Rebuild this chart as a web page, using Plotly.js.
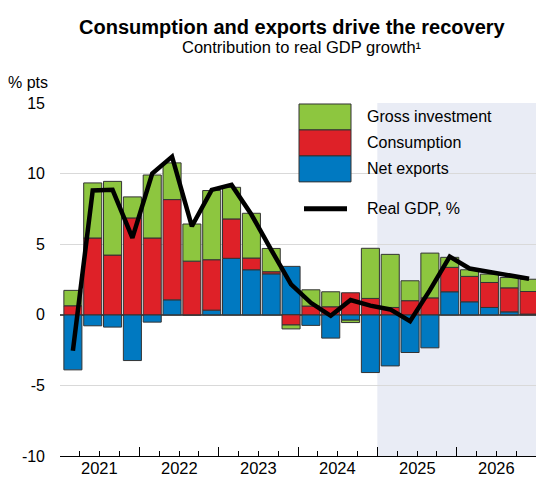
<!DOCTYPE html>
<html>
<head>
<meta charset="utf-8">
<script src="https://cdn.plot.ly/plotly-3.0.1.min.js"></script>
<style>html,body{margin:0;padding:0;background:#fff;}#chart{width:536px;height:477px;}</style>
</head>
<body>
<div id="chart"></div>
<script>
// ---- data (quarterly, 2021Q1 .. 2026Q4) ----
const quarters = ['2021Q1','2021Q2','2021Q3','2021Q4','2022Q1','2022Q2','2022Q3','2022Q4',
                  '2023Q1','2023Q2','2023Q3','2023Q4','2024Q1','2024Q2','2024Q3','2024Q4',
                  '2025Q1','2025Q2','2025Q3','2025Q4','2026Q1','2026Q2','2026Q3','2026Q4'];
const yearLabels = ['2021','2022','2023','2024','2025','2026'];
const netExports  = [-3.9,-0.78,-0.87,-3.24,-0.52,1.06,0.0,0.33,4.0,3.19,2.9,3.43,-0.75,-1.65,-0.38,-4.09,-3.62,-2.67,-2.34,1.63,0.92,0.52,0.21,0.05];
const consumption = [0.64,5.44,4.23,6.86,5.44,7.1,3.8,3.57,2.79,0.83,0.15,-0.72,0.62,0.57,1.56,1.16,0.52,1.0,1.2,1.73,1.8,1.77,1.7,1.6];
const investment  = [1.09,3.9,5.22,1.49,4.46,2.6,2.63,4.9,2.24,3.17,1.65,-0.28,1.15,1.06,-0.17,3.55,3.76,1.41,3.17,0.71,0.47,0.59,0.73,0.87];
const realGDP     = [-2.55,8.8,8.85,5.45,10.0,11.2,6.27,8.85,9.2,7.1,4.6,2.15,0.85,-0.07,1.05,0.65,0.38,-0.45,1.75,4.12,3.28,3.05,2.8,2.55];
const seriesNames = ['Gross investment','Consumption','Net exports'];
const lineName = 'Real GDP, %';
const forecastStart = '2025Q1';

const colors = {inv:'#8DC63F', cons:'#DE2128', nx:'#0079C1'};
const FONT = 'Liberation Sans, Arial, sans-serif';

const xi = quarters.map((q, i) => i);
const shift = 0.65;                       // axis boundary offset
const xmin = -shift, xmax = quarters.length - shift;

const barLine = {color:'#333', width:1};
const traces = [
  {type:'bar', name:seriesNames[2], x:xi, y:netExports, marker:{color:colors.nx, line:barLine}, hoverinfo:'skip'},
  {type:'bar', name:seriesNames[1], x:xi, y:consumption, marker:{color:colors.cons, line:barLine}, hoverinfo:'skip'},
  {type:'bar', name:seriesNames[0], x:xi, y:investment, marker:{color:colors.inv, line:barLine}, hoverinfo:'skip'},
  {type:'scatter', mode:'lines', name:lineName, x:xi, y:realGDP, line:{color:'#000', width:4.5}, hoverinfo:'skip'}
];

// paper conversions for decorations
const L = 60, R = 536, T = 103, B = 456.5;
const px = v => (v - L) / (R - L);
const py = v => (B - v) / (B - T);

const shapes = [
  {type:'rect', layer:'below', xref:'x', yref:'paper', x0:quarters.indexOf(forecastStart) - shift, x1:xmax, y0:0, y1:1,
   fillcolor:'#E9ECF5', line:{width:0}},
  // legend boxes
  {type:'rect', xref:'paper', yref:'paper', x0:px(299), x1:px(351), y0:py(130), y1:py(104), fillcolor:colors.inv, line:{color:'#333', width:1}},
  {type:'rect', xref:'paper', yref:'paper', x0:px(299), x1:px(351), y0:py(156), y1:py(130), fillcolor:colors.cons, line:{color:'#333', width:1}},
  {type:'rect', xref:'paper', yref:'paper', x0:px(299), x1:px(351), y0:py(182), y1:py(156), fillcolor:colors.nx, line:{color:'#333', width:1}},
  {type:'line', xref:'paper', yref:'paper', x0:px(304), x1:px(347), y0:py(209), y1:py(209), line:{color:'#000', width:5}}
];

const annotations = [
  {xref:'paper', yref:'paper', x:px(292), y:py(27), text:'<b>Consumption and exports drive the recovery</b>', showarrow:false,
   xanchor:'center', yanchor:'middle', font:{family:FONT, size:20, color:'#000'}},
  {xref:'paper', yref:'paper', x:px(302), y:py(47), text:'Contribution to real GDP growth¹', showarrow:false,
   xanchor:'center', yanchor:'middle', font:{family:FONT, size:16.5, color:'#000'}},
  {xref:'paper', yref:'paper', x:px(6), y:py(82), text:'% pts', showarrow:false,
   xanchor:'left', yanchor:'middle', font:{family:FONT, size:16, color:'#000'}},
  {xref:'paper', yref:'paper', x:px(365), y:py(117), text:seriesNames[0], showarrow:false, xanchor:'left', yanchor:'middle', font:{family:FONT, size:16, color:'#000'}},
  {xref:'paper', yref:'paper', x:px(365), y:py(143), text:seriesNames[1], showarrow:false, xanchor:'left', yanchor:'middle', font:{family:FONT, size:16, color:'#000'}},
  {xref:'paper', yref:'paper', x:px(365), y:py(169), text:seriesNames[2], showarrow:false, xanchor:'left', yanchor:'middle', font:{family:FONT, size:16, color:'#000'}},
  {xref:'paper', yref:'paper', x:px(365), y:py(209), text:lineName, showarrow:false, xanchor:'left', yanchor:'middle', font:{family:FONT, size:16, color:'#000'}}
];
yearLabels.forEach((yr, k) => {
  annotations.push({xref:'x', yref:'paper', x:xmin + 4*k + 2, y:0, yshift:-2, text:yr, showarrow:false,
    xanchor:'center', yanchor:'top', borderpad:0, font:{family:FONT, size:16.5, color:'#000'}});
});

const layout = {
  width:536, height:477,
  margin:{l:L, r:0, t:T, b:477 - B, pad:0},
  paper_bgcolor:'#fff', plot_bgcolor:'#fff',
  showlegend:false,
  barmode:'relative', bargap:0.09,
  font:{family:FONT, size:16, color:'#000'},
  xaxis:{range:[xmin, xmax], showgrid:false, zeroline:false, showticklabels:false,
    showline:true, linecolor:'#000', linewidth:1,
    ticks:'inside', tick0:xmin, dtick:4, ticklen:9, tickcolor:'#000', tickwidth:1,
    minor:{ticks:'inside', tick0:xmin, dtick:1, ticklen:5, tickcolor:'#000', tickwidth:1, showgrid:false}},
  yaxis:{range:[-10, 15], tickvals:[-10,-5,0,5,10,15], ticktext:['-10','-5','0','5','10','15'],
    showgrid:true, gridcolor:'#D9D9D9', gridwidth:1,
    zeroline:true, zerolinecolor:'#555', zerolinewidth:2,
    showline:false, ticks:'', ticklabelstandoff:14, tickfont:{family:FONT, size:16, color:'#000'}},
  shapes:shapes,
  annotations:annotations
};

Plotly.newPlot('chart', traces, layout, {displayModeBar:false, staticPlot:true});
</script>
</body>
</html>
